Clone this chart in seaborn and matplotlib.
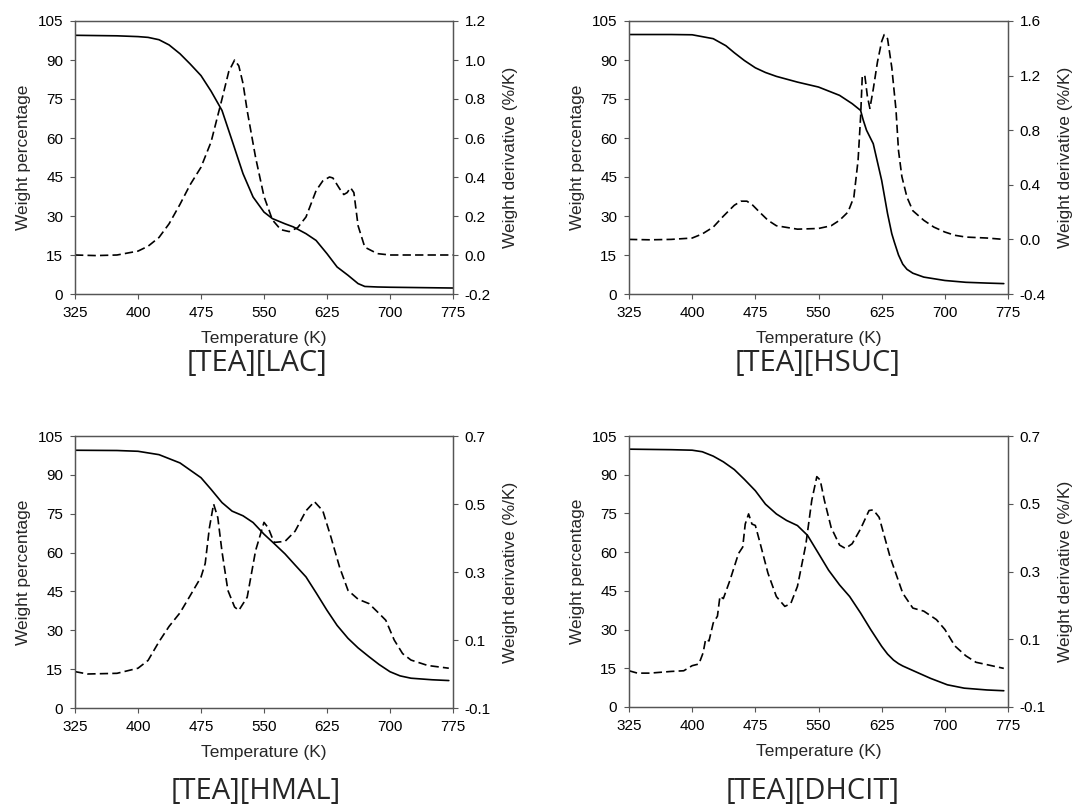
import matplotlib
matplotlib.use("Agg")
import matplotlib.pyplot as plt
import seaborn as sns
from matplotlib.ticker import FormatStrFormatter

sns.set_style("ticks")
plt.rcParams['font.family'] = ['Liberation Sans', 'DejaVu Sans']
plt.rcParams['axes.unicode_minus'] = False

# ---- [TEA][LAC] ----
lac_tga_t = [325, 350, 375, 400, 412, 425, 437, 450, 462, 475, 487, 500, 512, 525, 537,
             550, 560, 575, 585, 600, 612, 625, 637, 650, 662, 670, 685, 700, 775]
lac_tga_w = [99.5, 99.4, 99.3, 99.0, 98.7, 97.8, 95.8, 92.4, 88.5, 84.0, 78.0, 70.6, 59.0,
             46.3, 37.3, 31.5, 29.0, 27.0, 25.8, 23.2, 20.6, 15.5, 10.4, 7.2, 4.0, 2.9,
             2.7, 2.6, 2.3]
lac_dtg_t = [325, 350, 375, 400, 412, 425, 437, 450, 462, 475, 487, 500, 508, 515, 520,
             525, 530, 540, 550, 560, 570, 580, 590, 600, 612, 620, 628, 632, 640, 645,
             649, 653, 657, 662, 670, 685, 700, 775]
lac_dtg_d = [0.0, -0.003, 0.0, 0.02, 0.045, 0.09, 0.16, 0.26, 0.36, 0.45, 0.58, 0.8, 0.94,
             1.0, 0.97, 0.88, 0.74, 0.5, 0.3, 0.18, 0.13, 0.12, 0.14, 0.195, 0.33, 0.38,
             0.40, 0.395, 0.34, 0.31, 0.32, 0.345, 0.32, 0.15, 0.04, 0.007, 0.0, 0.0]

# ---- [TEA][HSUC] ----
hsuc_tga_t = [325, 375, 400, 425, 440, 450, 462, 475, 487, 500, 525, 550, 575, 590, 600,
              603, 607, 615, 625, 632, 637, 640, 645, 650, 655, 662, 675, 700, 725, 750, 770]
hsuc_tga_w = [99.8, 99.8, 99.7, 98.2, 95.5, 92.8, 89.8, 87.0, 85.2, 83.7, 81.5, 79.6, 76.4,
              73.2, 70.6, 67.0, 63.0, 57.8, 43.7, 30.9, 23.2, 20.0, 15.0, 11.5, 9.5, 8.0,
              6.5, 5.2, 4.5, 4.2, 4.0]
hsuc_dtg_t = [325, 350, 375, 400, 412, 425, 437, 450, 458, 465, 472, 480, 490, 500, 525,
              550, 565, 575, 585, 592, 597, 600, 602, 605, 608, 611, 615, 620, 625, 628,
              632, 637, 642, 645, 649, 655, 662, 675, 687, 700, 712, 725, 750, 770]
hsuc_dtg_d = [0.0, -0.003, 0.0, 0.01, 0.04, 0.09, 0.17, 0.25, 0.28, 0.28, 0.25, 0.2, 0.14,
              0.1, 0.075, 0.08, 0.1, 0.14, 0.2, 0.31, 0.58, 0.9, 1.2, 1.2, 1.05, 0.96, 1.1,
              1.3, 1.45, 1.5, 1.47, 1.26, 0.95, 0.65, 0.46, 0.31, 0.21, 0.14, 0.09, 0.054,
              0.03, 0.017, 0.01, 0.0]

# ---- [TEA][HMAL] ----
hmal_tga_t = [325, 375, 400, 425, 450, 475, 487, 500, 512, 525, 537, 550, 562, 575, 587,
              600, 612, 625, 637, 650, 662, 675, 687, 700, 712, 725, 750, 770]
hmal_tga_w = [99.5, 99.4, 99.1, 97.8, 94.6, 88.9, 84.4, 79.3, 76.0, 74.2, 71.6, 67.1, 63.5,
              59.5, 55.2, 50.6, 44.5, 37.7, 31.9, 26.9, 23.2, 19.8, 16.8, 14.0, 12.4, 11.5,
              10.9, 10.6]
hmal_dtg_t = [325, 340, 375, 400, 412, 425, 437, 450, 462, 475, 480, 485, 490, 495, 500,
              507, 515, 520, 530, 540, 550, 555, 562, 575, 587, 600, 610, 620, 630, 640,
              650, 662, 675, 687, 695, 705, 715, 725, 745, 770]
hmal_dtg_d = [0.007, 0.0, 0.002, 0.017, 0.04, 0.095, 0.14, 0.18, 0.23, 0.285, 0.325, 0.43,
              0.5, 0.46, 0.36, 0.246, 0.197, 0.187, 0.226, 0.363, 0.446, 0.43, 0.387, 0.39,
              0.42, 0.48, 0.507, 0.48, 0.4, 0.314, 0.246, 0.22, 0.207, 0.178, 0.158, 0.1,
              0.06, 0.041, 0.025, 0.017]

# ---- [TEA][DHCIT] ----
dhcit_tga_t = [325, 375, 400, 412, 425, 437, 450, 462, 475, 487, 500, 512, 525, 537, 550,
               562, 575, 587, 600, 612, 625, 632, 639, 645, 650, 663, 683, 703, 723, 750, 770]
dhcit_tga_w = [99.9, 99.7, 99.5, 98.9, 97.2, 95.0, 92.0, 88.2, 83.8, 78.6, 74.8, 72.3, 70.3,
               66.5, 59.5, 53.0, 47.3, 42.8, 36.4, 30.0, 23.5, 20.5, 18.2, 16.8, 15.9, 14.0,
               11.1, 8.6, 7.3, 6.6, 6.3]
dhcit_dtg_t = [325, 335, 350, 375, 390, 400, 408, 413, 416, 420, 425, 430, 433, 437, 445,
               455, 460, 463, 467, 471, 475, 480, 490, 500, 510, 517, 525, 535, 542, 548,
               552, 557, 565, 575, 582, 590, 600, 610, 615, 622, 635, 650, 662, 675, 690,
               700, 712, 725, 737, 750, 770]
dhcit_dtg_d = [0.007, 0.0, 0.0, 0.005, 0.007, 0.022, 0.027, 0.06, 0.1, 0.095, 0.148, 0.168,
               0.227, 0.22, 0.275, 0.353, 0.372, 0.44, 0.47, 0.44, 0.436, 0.39, 0.295, 0.226,
               0.197, 0.205, 0.256, 0.38, 0.51, 0.58, 0.57, 0.51, 0.43, 0.378, 0.368, 0.382,
               0.426, 0.48, 0.482, 0.46, 0.343, 0.236, 0.192, 0.183, 0.158, 0.129, 0.08,
               0.051, 0.032, 0.025, 0.014]

titles = ['[TEA][LAC]', '[TEA][HSUC]', '[TEA][HMAL]', '[TEA][DHCIT]']
right_ticks = [[-0.2, 0.0, 0.2, 0.4, 0.6, 0.8, 1.0, 1.2],
               [-0.4, 0.0, 0.4, 0.8, 1.2, 1.6],
               [-0.1, 0.1, 0.3, 0.5, 0.7],
               [-0.1, 0.1, 0.3, 0.5, 0.7]]
curves = [(lac_tga_t, lac_tga_w, lac_dtg_t, lac_dtg_d),
          (hsuc_tga_t, hsuc_tga_w, hsuc_dtg_t, hsuc_dtg_d),
          (hmal_tga_t, hmal_tga_w, hmal_dtg_t, hmal_dtg_d),
          (dhcit_tga_t, dhcit_tga_w, dhcit_dtg_t, dhcit_dtg_d)]

W, H = 1072, 811
# axes boxes in pixels: left, top, right, bottom
boxes = [(75, 21, 453, 294), (629, 21, 1008, 294),
         (75, 436, 453, 708), (629, 436, 1008, 707)]
title_xy = [(257, 364), (818, 364), (256, 791), (813, 791)]
spine_col = '#555555'

fig = plt.figure(figsize=(W / 100, H / 100), dpi=100)

for i, (tt, ww, dt, dd) in enumerate(curves):
    l, t, r, b = boxes[i]
    ax = fig.add_axes([l / W, 1 - b / H, (r - l) / W, (b - t) / H])
    ax2 = ax.twinx()

    sns.lineplot(x=tt, y=ww, ax=ax, color='black', linewidth=1.2)
    sns.lineplot(x=dt, y=dd, ax=ax2, color='black', linewidth=1.2,
                 linestyle=(0, (5, 2.5)))

    ax.set_xlim(325, 775)
    ax.set_xticks(range(325, 776, 75))
    ax.set_ylim(0, 105)
    ax.set_yticks(range(0, 106, 15))
    rt = right_ticks[i]
    ax2.set_ylim(rt[0], rt[-1])
    ax2.set_yticks(rt)
    ax2.yaxis.set_major_formatter(FormatStrFormatter('%.1f'))

    ax.set_xlabel('Temperature (K)', fontsize=12.5, labelpad=8)
    ax.set_ylabel('Weight percentage', fontsize=12.5, labelpad=5)
    ax2.set_ylabel('Weight derivative (%/K)', fontsize=12.5, labelpad=9)

    for a in (ax, ax2):
        a.tick_params(direction='out', length=3.5, width=0.8, color=spine_col,
                      labelsize=11, labelcolor='black', pad=5)
        for s in a.spines.values():
            s.set_color(spine_col)
            s.set_linewidth(0.9)

    cx, cy = title_xy[i]
    fig.text(cx / W, 1 - cy / H, titles[i], ha='center', va='center',
             fontsize=21, family=['Open Sans', 'DejaVu Sans'])

fig.savefig('out.png', dpi=100)
